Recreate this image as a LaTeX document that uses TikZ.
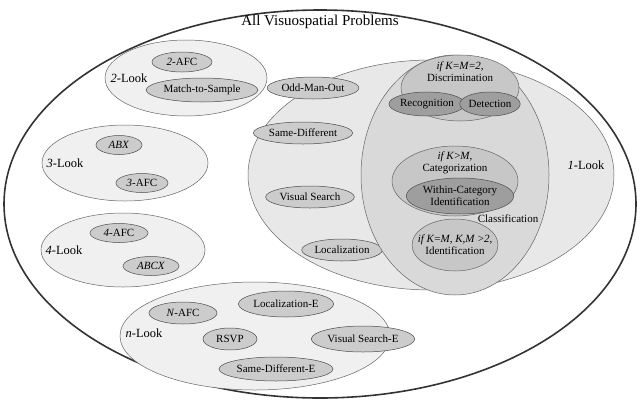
\documentclass[tikz,border=0pt]{standalone}
\usepackage{fontspec}
\setmainfont{Liberation Serif}
\begin{document}
\begin{tikzpicture}[x=1pt,y=-1pt,
  E/.style={draw=black!60,line width=0.5pt},
  item/.style={ellipse,draw=black!70,fill=black!20,inner sep=1pt,font=\fontsize{11}{12}\selectfont,line width=0.5pt},
  lbl/.style={font=\fontsize{12.5}{14}\selectfont,align=center},
  small/.style={font=\fontsize{11}{12}\selectfont,align=center}]
\usetikzlibrary{shapes.geometric}
\useasboundingbox (0,0) rectangle (640,400);
\draw[line width=1.6pt,draw=black!80,fill=white] (320,204) ellipse [x radius=316,y radius=194];
\node[lbl,font=\fontsize{15}{17}\selectfont] (title) at (320,22) {All Visuospatial Problems};
% 2-Look
\draw[E,fill=black!6] (186,78) ellipse [x radius=81,y radius=38];
\node[lbl] (l2) at (129,78) {\textit{2}-Look};
\node[item,minimum width=60,minimum height=20] (a2) at (182,62) {\textit{2}-AFC};
\node[item,minimum width=100,minimum height=24] (ms) at (202,90) {Match-to-Sample};
% 3-Look
\draw[E,fill=black!6] (125,163) ellipse [x radius=83,y radius=38];
\node[lbl] (l3) at (65,163) {\textit{3}-Look};
\node[item,minimum width=46,minimum height=19] (abx) at (119,145) {\textit{ABX}};
\node[item,minimum width=52,minimum height=19] (a3) at (142,183) {\textit{3}-AFC};
% 4-Look
\draw[E,fill=black!6] (123,250) ellipse [x radius=82,y radius=37];
\node[lbl] (l4) at (64,250) {\textit{4}-Look};
\node[item,minimum width=58,minimum height=19] (a4) at (119,233) {\textit{4}-AFC};
\node[item,minimum width=56,minimum height=19] (abcx) at (151,266) {\textit{ABCX}};
% n-Look
\draw[E,fill=black!6] (255,336) ellipse [x radius=135,y radius=54];
\node[lbl] (ln) at (144,333) {\textit{n}-Look};
\node[item,minimum width=68,minimum height=22] (na) at (183,313) {\textit{N}-AFC};
\node[item,minimum width=90,minimum height=26] (le) at (286,304) {Localization-E};
\node[item,minimum width=54,minimum height=22] (rsvp) at (230,339) {RSVP};
\node[item,minimum width=94,minimum height=26] (vse) at (363,339) {Visual Search-E};
\node[item,minimum width=100,minimum height=24] (sde) at (276,369) {Same-Different-E};
% 1-Look
\draw[E,fill=black!9] (431,175) ellipse [x radius=183,y radius=115];
\node[lbl] (l1) at (586,165) {\textit{1}-Look};
\node[item,minimum width=76,minimum height=22] (omo) at (313,88) {Odd-Man-Out};
\node[item,minimum width=80,minimum height=22] (sd) at (303,133) {Same-Different};
\node[item,minimum width=80,minimum height=22] (vs) at (310,197) {Visual Search};
\node[item,minimum width=64,minimum height=22] (loc) at (342,250) {Localization};
% Classification
\draw[E,fill=black!15] (455,175) ellipse [x radius=94,y radius=120];
\node[small] (cl) at (508,219) {Classification};
\draw[E,fill=black!22] (460,88) ellipse [x radius=59,y radius=33];
\node[small] (disc) at (460,72) {\textit{if K}=\textit{M}=\textit{2},\\Discrimination};
\node[item,fill=black!38,inner sep=0pt,minimum width=56,minimum height=24] (rec) at (427,104) {Recognition};
\node[item,fill=black!38,inner sep=0pt,minimum width=50,minimum height=24] (det) at (490,104) {Detection};
\draw[E,fill=black!22] (455,181) ellipse [x radius=63,y radius=35];
\node[small] (cat) at (455,163) {\textit{if K}\textgreater\textit{M},\\Categorization};
\node[item,fill=black!38,align=center,minimum width=86,minimum height=36] (wci) at (460,196) {Within-Category\\Identification};
\draw[E,fill=black!22] (455,245) ellipse [x radius=43,y radius=26];
\node[small] (ident) at (455,245) {\textit{if K}=\textit{M, K,M} \textgreater\textit{2},\\Identification};
\end{tikzpicture}
\end{document}
